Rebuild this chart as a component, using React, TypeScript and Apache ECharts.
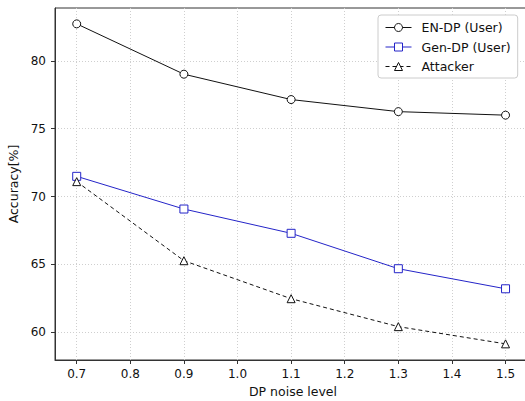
import React, { useEffect, useRef } from "react";
import * as echarts from "echarts";

const xValues = [0.7, 0.9, 1.1, 1.3, 1.5];
const enDp = [82.73, 79.02, 77.15, 76.26, 76.0];
const genDp = [71.49, 69.08, 67.29, 64.68, 63.2];
const attacker = [71.1, 65.27, 62.47, 60.41, 59.14];
const xTicks = [0.7, 0.8, 0.9, 1.0, 1.1, 1.2, 1.3, 1.4, 1.5];
const yTicks = [60, 65, 70, 75, 80];

const FONT = "DejaVu Sans";

export default function App() {
  const ref = useRef<HTMLDivElement>(null);
  useEffect(() => {
    if (!ref.current) return;
    const chart = echarts.init(ref.current, null, { renderer: "svg" });
    const pair = (ys: number[]) => xValues.map((x, i) => [x, ys[i]]);
    const xMin = 0.6595;
    const xMax = 1.5475;
    chart.setOption({
      animation: false,
      backgroundColor: "#ffffff",
      textStyle: { fontFamily: FONT },
      grid: {
        left: 55,
        top: 8,
        width: 476,
        height: 352,
        outerBoundsMode: "none",
        containLabel: false,
        show: true,
        borderColor: "#333333",
        borderWidth: 1,
        backgroundColor: "transparent",
      },
      legend: {
        orient: "vertical",
        left: 378,
        top: 15,
        padding: [5, 7, 4, 7],
        itemWidth: 26,
        itemHeight: 10,
        itemGap: 4.5,
        backgroundColor: "#ffffff",
        borderColor: "#cccccc",
        borderWidth: 1,
        borderRadius: 3,
        lineStyle: { width: 1 },
        itemStyle: { color: "#ffffff", borderWidth: 1 },
        textStyle: { fontFamily: FONT, fontSize: 12.5, color: "#111", padding: [0, 0, 0, 5], lineHeight: 15 },
        data: ["EN-DP (User)", "Gen-DP (User)", "Attacker"],
      },
      xAxis: {
        type: "value",
        min: xMin,
        max: xMax,
        name: "DP noise level",
        nameLocation: "middle",
        nameGap: 25,
        nameTextStyle: { fontFamily: FONT, fontSize: 12.5, color: "#111" },
        axisLine: { lineStyle: { color: "#333", width: 1 } },
        axisTick: {
          show: true,
          length: 4,
          lineStyle: { color: "#333" },
          customValues: xTicks,
        },
        axisLabel: {
          customValues: xTicks,
          margin: 8,
          fontFamily: FONT,
          fontSize: 12,
          color: "#111",
          formatter: (v: number) => v.toFixed(1),
        },
        splitLine: {
          show: true,
          lineStyle: { color: "#cfcfcf", type: [1, 2], width: 1 },
        },
      },
      yAxis: {
        type: "value",
        min: 57.95,
        max: 83.9,
        name: "Accuracy[%]",
        nameLocation: "middle",
        nameGap: 32,
        nameTextStyle: { fontFamily: FONT, fontSize: 12.5, color: "#111" },
        axisLine: { show: true, lineStyle: { color: "#333", width: 1 } },
        axisTick: {
          show: true,
          length: 4,
          lineStyle: { color: "#333" },
          customValues: yTicks,
        },
        axisLabel: {
          customValues: yTicks,
          margin: 9,
          fontFamily: FONT,
          fontSize: 12,
          color: "#111",
        },
        splitLine: {
          show: true,
          lineStyle: { color: "#cfcfcf", type: [1, 2], width: 1 },
        },
      },
      series: [
        {
          name: "EN-DP (User)",
          type: "line",
          data: pair(enDp),
          symbol: "circle",
          symbolSize: 8,
          itemStyle: { color: "#ffffff", borderColor: "#111111", borderWidth: 1 },
          lineStyle: { color: "#111111", width: 1 },
          color: "#111111",
        },
        {
          name: "Gen-DP (User)",
          type: "line",
          data: pair(genDp),
          symbol: "rect",
          symbolSize: 8,
          itemStyle: { color: "#ffffff", borderColor: "#2424c8", borderWidth: 1 },
          lineStyle: { color: "#2424c8", width: 1 },
          color: "#2424c8",
        },
        {
          name: "Attacker",
          type: "line",
          data: pair(attacker),
          symbol: "triangle",
          symbolSize: 8,
          itemStyle: { color: "#ffffff", borderColor: "#111111", borderWidth: 1 },
          lineStyle: { color: "#111111", width: 1, type: [4, 3] },
          color: "#111111",
        },
      ],
    });
    return () => chart.dispose();
  }, []);
  return (
    <div
      ref={ref}
      style={{ position: "fixed", left: 0, top: 0, width: 525, height: 401 }}
    />
  );
}
